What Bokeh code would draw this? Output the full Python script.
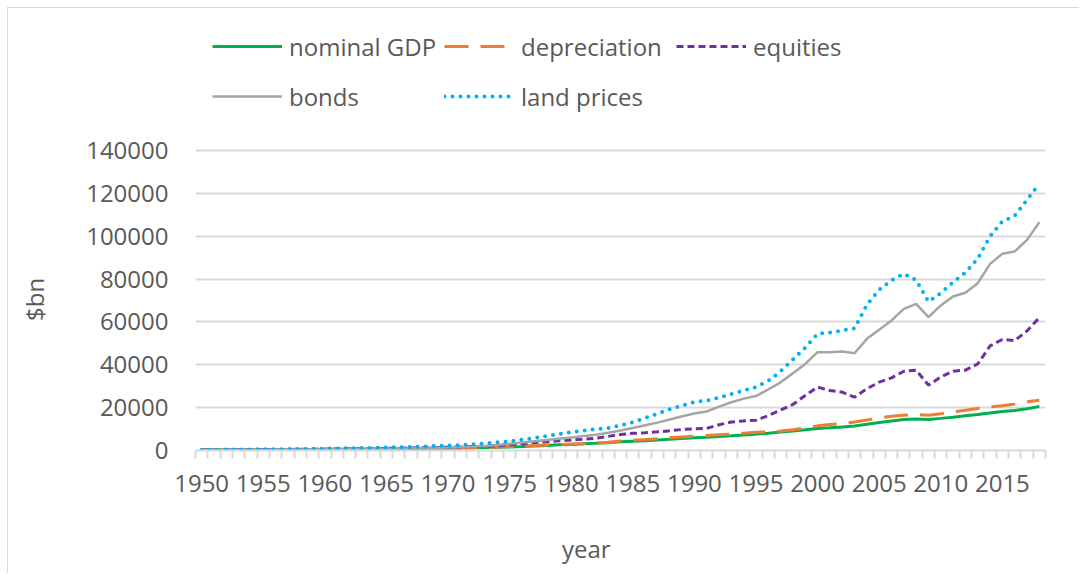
from bokeh.plotting import figure
from bokeh.models import (ColumnDataSource, Range1d, FixedTicker, Legend, LegendItem,
                          CustomJSTickFormatter)
from bokeh.embed import file_html
from bokeh.resources import INLINE

years = list(range(1950, 2019))

nominal_gdp = [300, 347, 367, 389, 391, 426, 450, 474, 481, 522,
               543, 563, 605, 639, 686, 743, 815, 862, 943, 1019,
               1073, 1165, 1280, 1429, 1548, 1689, 1878, 2086, 2357, 2632,
               2857, 3207, 3344, 3634, 4037, 4339, 4580, 4855, 5236, 5642,
               5963, 6158, 6520, 6859, 7287, 7640, 8073, 8578, 9063, 9631,
               10252, 10582, 10936, 11458, 12214, 13037, 13815, 14452, 14713, 14449,
               14992, 15543, 16197, 16785, 17527, 18225, 18715, 19519, 20580]

depreciation = [250, 280, 300, 320, 330, 360, 390, 420, 440, 470,
                500, 520, 560, 600, 650, 710, 780, 850, 930, 1020,
                1100, 1200, 1330, 1480, 1650, 1850, 2050, 2300, 2600, 2800,
                3000, 3200, 3500, 3900, 4400, 4800, 5100, 5450, 5900, 6300,
                6700, 6950, 7300, 7650, 8100, 8500, 8750, 9100, 9700, 10500,
                11500, 12100, 12600, 13300, 14200, 15200, 16000, 16500, 16800, 16500,
                17200, 18100, 18800, 19600, 20400, 20900, 21700, 22700, 23500]

equities = [250, 280, 310, 330, 380, 430, 470, 490, 550, 600,
            640, 700, 740, 800, 900, 1000, 1050, 1150, 1300, 1400,
            1500, 1650, 1850, 2000, 2200, 2700, 3200, 3700, 4100, 4500,
            4900, 5300, 5700, 6600, 7500, 8000, 8300, 8700, 9200, 9800,
            10100, 10300, 12000, 13300, 13800, 14100, 16300, 18900, 21500, 25700,
            29600, 28000, 27200, 24900, 28800, 31900, 33900, 37000, 37500, 30500,
            34300, 37000, 37500, 40400, 48800, 51800, 51300, 55800, 62000]

bonds = [250, 270, 300, 320, 350, 380, 410, 440, 480, 520,
         560, 610, 660, 720, 790, 860, 940, 1030, 1130, 1250,
         1400, 1600, 1850, 2150, 2600, 3100, 3700, 4300, 4900, 5500,
         6100, 6800, 7400, 8300, 9300, 10500, 11800, 13000, 14500, 16000,
         17300, 18200, 20500, 22500, 24200, 25400, 28500, 31800, 36100, 40400,
         45900, 45900, 46200, 45400, 52100, 56300, 60700, 66100, 68400, 62200,
         67700, 71900, 73600, 78100, 87100, 91800, 92900, 98300, 106500]

land_prices = [350, 380, 420, 460, 500, 550, 600, 660, 720, 790,
               860, 940, 1030, 1130, 1250, 1380, 1520, 1680, 1870, 2080,
               2300, 2550, 2900, 3300, 3800, 4300, 5000, 5800, 6700, 7700,
               8600, 9300, 10000, 10500, 11700, 13200, 15200, 17200, 19300, 21000,
               22600, 23300, 24700, 26300, 28000, 29600, 32500, 37000, 42500, 48000,
               54500, 55000, 56000, 57000, 68000, 75000, 79500, 82500, 79500, 69500,
               73500, 78500, 83000, 89500, 100000, 107000, 109500, 117000, 124500]

y_ticks = [0, 20000, 40000, 60000, 80000, 100000, 120000, 140000]
x_label_years = list(range(1950, 2019, 5))

series_names = ["nominal GDP", "depreciation", "equities", "bonds", "land prices"]
series_colors = ["#00B050", "#ED7D31", "#7030A0", "#A5A5A5", "#00B0F0"]

FONT = "Open Sans"
TXT = "#595959"
GRID = "#D9D9D9"
NBSP = "\u00a0"

src = ColumnDataSource(dict(year=years, gdp=nominal_gdp, dep=depreciation,
                            eq=equities, bonds=bonds, land=land_prices))

# frame: 300px for 0..140000, extended upward by 127px so the legend sits inside it
y_top = y_ticks[-1] * 427 / 300

p = figure(width=1072, height=566, output_backend="svg", toolbar_location=None,
           x_range=Range1d(years[0] - 0.5, years[-1] + 0.5),
           y_range=Range1d(y_ticks[0], y_top),
           min_border_left=187, min_border_right=35, min_border_top=15,
           min_border_bottom=124)
p.outline_line_color = None
p.background_fill_color = "white"
p.border_fill_color = "white"
p.styles = {"margin-left": "7px", "margin-top": "7px",
            "border-left": "1px solid #D9D9D9", "border-top": "1px solid #D9D9D9"}

r_gdp = p.line("year", "gdp", source=src, line_color=series_colors[0], line_width=3)
r_dep = p.line("year", "dep", source=src, line_color=series_colors[1], line_width=3,
               line_dash="24 12")
r_eq = p.line("year", "eq", source=src, line_color=series_colors[2], line_width=3,
              line_dash="7 4")
r_bonds = p.line("year", "bonds", source=src, line_color=series_colors[3], line_width=2.5)
r_land = p.line("year", "land", source=src, line_color=series_colors[4], line_width=4,
                line_dash="0 8", line_cap="round")

# x axis
xa = p.xaxis[0]
xa.ticker = FixedTicker(ticks=x_label_years,
                        minor_ticks=[y - 0.5 for y in years] + [years[-1] + 0.5])
xa.axis_line_color = GRID
xa.axis_line_width = 2
xa.major_tick_line_color = None
xa.major_tick_out = 8
xa.major_tick_in = 0
xa.minor_tick_line_color = GRID
xa.minor_tick_line_width = 2
xa.minor_tick_out = 8
xa.minor_tick_in = 0
xa.major_label_standoff = 16
xa.major_label_text_font = FONT
xa.major_label_text_font_size = "24px"
xa.major_label_text_color = TXT
xa.axis_label = "year" + NBSP * 11
xa.axis_label_text_font = FONT
xa.axis_label_text_font_size = "24px"
xa.axis_label_text_color = TXT
xa.axis_label_text_font_style = "normal"
xa.axis_label_standoff = 37

# y axis
ya = p.yaxis[0]
ya.ticker = FixedTicker(ticks=y_ticks)
ya.axis_line_color = None
ya.major_tick_line_color = None
ya.minor_tick_line_color = None
ya.major_tick_out = 0
ya.major_tick_in = 0
ya.major_label_standoff = 27
ya.major_label_text_font = FONT
ya.major_label_text_font_size = "24px"
ya.major_label_text_color = TXT
ya.formatter = CustomJSTickFormatter(code="return tick.toFixed(0);")
ya.axis_label = "$bn" + NBSP * 20
ya.axis_label_text_font = FONT
ya.axis_label_text_font_size = "24px"
ya.axis_label_text_color = TXT
ya.axis_label_text_font_style = "normal"
ya.axis_label_standoff = 32

p.xgrid.grid_line_color = None
p.ygrid.grid_line_color = GRID
p.ygrid.grid_line_width = 2

legend = Legend(items=[LegendItem(label=series_names[0], renderers=[r_gdp]),
                       LegendItem(label=series_names[1], renderers=[r_dep]),
                       LegendItem(label=series_names[2], renderers=[r_eq]),
                       LegendItem(label=series_names[3], renderers=[r_bonds]),
                       LegendItem(label=series_names[4], renderers=[r_land])],
                location=(17, 329), ncols=3, orientation="horizontal",
                glyph_width=70, glyph_height=50, label_height=50, label_width=155,
                label_standoff=7, spacing=0, padding=0, margin=0,
                border_line_color=None, background_fill_alpha=0,
                label_text_font=FONT, label_text_font_size="24px",
                label_text_color=TXT)
p.add_layout(legend, "center")

open("out.html", "w").write(file_html(p, INLINE))
